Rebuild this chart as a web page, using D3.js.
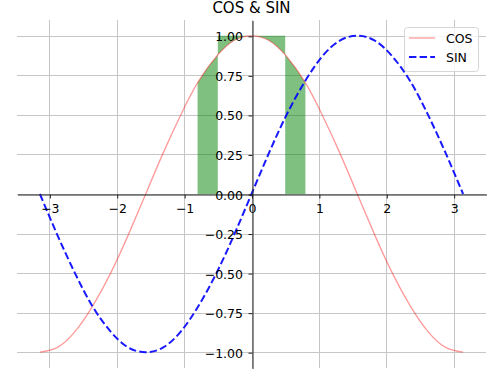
<!DOCTYPE html>
<html>
<head>
<meta charset="utf-8">
<script src="https://cdn.jsdelivr.net/npm/d3@7"></script>
<style>
body { margin: 0; background: #fff; }
svg { display: block; font-family: "DejaVu Sans", sans-serif; }
</style>
</head>
<body>
<div id="chart"></div>
<script>
// values
var x_values = [-3.14, -2.88, -2.62, -2.36, -2.09, -1.83, -1.57, -1.31, -1.05, -0.79, -0.52, -0.26, 0,
                0.26, 0.52, 0.79, 1.05, 1.31, 1.57, 1.83, 2.09, 2.36, 2.62, 2.88, 3.14];
var cos_values = [-1.00, -0.97, -0.87, -0.71, -0.50, -0.26, 0.00, 0.26, 0.50, 0.71, 0.87, 0.97, 1.00,
                  0.97, 0.87, 0.71, 0.50, 0.26, 0.00, -0.26, -0.50, -0.71, -0.87, -0.97, -1.00];
var sin_values = [0.00, -0.26, -0.50, -0.71, -0.87, -0.97, -1.00, -0.97, -0.87, -0.71, -0.50, -0.26, 0.00,
                  0.26, 0.50, 0.71, 0.87, 0.97, 1.00, 0.97, 0.87, 0.71, 0.50, 0.26, 0.00];
var series_names = ['COS', 'SIN'];
var x_ticks = [-3, -2, -1, 0, 1, 2, 3];
var y_ticks = [-1, -0.75, -0.5, -0.25, 0, 0.25, 0.5, 0.75, 1];
// green fill: x ranges and the base it is filled from (up/down to the cos curve)
var fill_start = [-0.80, -0.50, 0.50];
var fill_end = [-0.50, 0.50, 0.80];
var fill_base = [0, 1, 0];
var title = 'COS & SIN';

var chart_width = 500;
var chart_height = 387;
var plot_left = 17, plot_right = 486, plot_top = 20, plot_bottom = 368;
var font_size = 12.5;

var svg = d3.select('#chart')
      .append('svg')
      .attr('width', chart_width)
      .attr('height', chart_height);

var x_scale = d3.scaleLinear()
        .domain([-3.48, 3.48])
        .range([plot_left, plot_right]);

var y_scale = d3.scaleLinear()
        .domain([-1.1, 1.1])
        .range([plot_bottom, plot_top]);

function snap(v) { return Math.round(v) + 0.5; }

// grid
var grid = svg.append('g').attr('class', 'grid');
grid.selectAll('.gx')
    .data(x_ticks)
    .enter()
    .append('line')
    .attr('x1', function(d) { return snap(x_scale(d)); })
    .attr('x2', function(d) { return snap(x_scale(d)); })
    .attr('y1', plot_top)
    .attr('y2', plot_bottom)
    .attr('stroke', '#c6c6c6')
    .attr('stroke-width', 1);
grid.selectAll('.gy')
    .data(y_ticks)
    .enter()
    .append('line')
    .attr('x1', plot_left)
    .attr('x2', plot_right)
    .attr('y1', function(d) { return snap(y_scale(d)); })
    .attr('y2', function(d) { return snap(y_scale(d)); })
    .attr('stroke', '#c6c6c6')
    .attr('stroke-width', 1);

var points_cos = x_values.map(function(x, i) { return [x, cos_values[i]]; });
var points_sin = x_values.map(function(x, i) { return [x, sin_values[i]]; });

// green fills, clipped to their x ranges
var fills = fill_start.map(function(s, i) {
  return { start: s, end: fill_end[i], base: fill_base[i] };
});
var defs = svg.append('defs');
fills.forEach(function(f, i) {
  defs.append('clipPath')
      .attr('id', 'fill-clip-' + i)
      .append('rect')
      .attr('x', x_scale(f.start))
      .attr('y', plot_top)
      .attr('width', x_scale(f.end) - x_scale(f.start))
      .attr('height', plot_bottom - plot_top);
});
svg.append('g')
   .selectAll('path')
   .data(fills)
   .enter()
   .append('path')
   .attr('clip-path', function(d, i) { return 'url(#fill-clip-' + i + ')'; })
   .attr('d', function(f) {
     return d3.area()
        .x(function(d) { return x_scale(d[0]); })
        .y0(y_scale(f.base))
        .y1(function(d) { return y_scale(d[1]); })
        .curve(d3.curveNatural)(points_cos);
   })
   .attr('fill', '#008000')
   .attr('fill-opacity', 0.5);

var line = d3.line()
      .x(function(d) { return x_scale(d[0]); })
      .y(function(d) { return y_scale(d[1]); })
      .curve(d3.curveNatural);

svg.append('path')
   .attr('d', line(points_cos))
   .attr('fill', 'none')
   .attr('stroke', 'red')
   .attr('stroke-opacity', 0.4)
   .attr('stroke-width', 1.3);

svg.append('path')
   .attr('d', line(points_sin))
   .attr('fill', 'none')
   .attr('stroke', 'blue')
   .attr('stroke-opacity', 0.9)
   .attr('stroke-width', 2)
   .attr('stroke-dasharray', '7.4,3.2');

// axes through the origin
var x_axis = d3.axisBottom(x_scale)
      .tickValues(x_ticks)
      .tickFormat(d3.format('d'))
      .tickSizeInner(4)
      .tickSizeOuter(0)
      .tickPadding(6);

var y_axis = d3.axisLeft(y_scale)
      .tickValues(y_ticks)
      .tickFormat(d3.format('.2f'))
      .tickSizeInner(4)
      .tickSizeOuter(0)
      .tickPadding(5.5);

var gx = svg.append('g')
   .attr('class', 'x-axis')
   .attr('transform', 'translate(0.5, ' + snap(y_scale(0)) + ')')
   .call(x_axis);

var gy = svg.append('g')
   .attr('class', 'y-axis')
   .attr('transform', 'translate(' + snap(x_scale(0)) + ', 0.5)')
   .call(y_axis);

[gx, gy].forEach(function(g) {
  g.attr('font-family', '"DejaVu Sans", sans-serif')
   .attr('font-size', font_size);
  g.selectAll('path.domain').attr('stroke', '#222').attr('stroke-width', 1);
  g.selectAll('.tick line').attr('stroke', '#222').attr('stroke-width', 1);
  g.selectAll('.tick text').attr('fill', '#000');
});
gy.selectAll('.tick text').attr('dy', '0.36em');

// title
svg.append('text')
   .attr('x', (plot_left + plot_right) / 2)
   .attr('y', 13)
   .attr('text-anchor', 'middle')
   .attr('font-size', 15)
   .attr('fill', '#000')
   .text(title);

// legend
var legend = svg.append('g').attr('class', 'legend');
legend.append('rect')
   .attr('x', 404.5)
   .attr('y', 27.5)
   .attr('width', 74)
   .attr('height', 44)
   .attr('rx', 3)
   .attr('fill', '#fff')
   .attr('fill-opacity', 0.8)
   .attr('stroke', '#d6d6d6');

var legend_styles = [
  { color: 'red', opacity: 0.4, width: 1.3, dash: null },
  { color: 'blue', opacity: 0.9, width: 2, dash: '7.4,3.2' }
];
series_names.forEach(function(name, i) {
  var ly = 38 + i * 19;
  var s = legend_styles[i];
  legend.append('line')
     .attr('x1', 409)
     .attr('x2', 435)
     .attr('y1', ly)
     .attr('y2', ly)
     .attr('stroke', s.color)
     .attr('stroke-opacity', s.opacity)
     .attr('stroke-width', s.width)
     .attr('stroke-dasharray', s.dash);
  legend.append('text')
     .attr('x', 446)
     .attr('y', ly)
     .attr('dy', '0.36em')
     .attr('font-size', font_size)
     .attr('fill', '#000')
     .text(name);
});
</script>
</body>
</html>
